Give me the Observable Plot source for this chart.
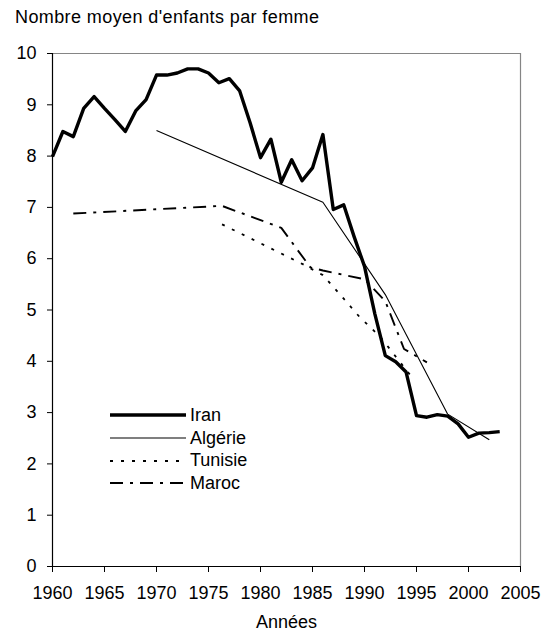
<!DOCTYPE html>
<html><head><meta charset="utf-8">
<script src="https://cdn.jsdelivr.net/npm/d3@7"></script>
<script src="https://cdn.jsdelivr.net/npm/@observablehq/plot@0.6"></script>
<style>
body{margin:0;background:#fff;font-family:"Liberation Sans",Arial,sans-serif;color:#000;}
#wrap{position:relative;width:547px;height:630px;}
#title{height:30px;line-height:34px;padding-left:15px;font-size:18px;letter-spacing:0.4px;white-space:nowrap;}
#legend{position:absolute;left:110px;top:404px;font-size:18px;}
.row{display:flex;align-items:center;height:22.7px;}
.row svg{display:block;margin-right:4px;}
</style></head><body>
<div id="wrap"><div id="title">Nombre moyen d'enfants par femme</div><div id="chart"></div><div id="legend"></div></div>
<script>
const iranYears = [1960,1961,1962,1963,1964,1965,1966,1967,1968,1969,1970,1971,1972,1973,1974,1975,1976,1977,1978,1979,1980,1981,1982,1983,1984,1985,1986,1987,1988,1989,1990,1991,1992,1993,1994,1995,1996,1997,1998,1999,2000,2001,2002,2003];
const iranValues = [7.99,8.48,8.38,8.93,9.16,8.93,8.71,8.48,8.88,9.10,9.58,9.58,9.62,9.70,9.70,9.62,9.43,9.51,9.27,8.65,7.97,8.33,7.49,7.93,7.52,7.77,8.42,6.96,7.05,6.43,5.85,4.92,4.11,3.99,3.79,2.94,2.91,2.96,2.93,2.78,2.52,2.60,2.61,2.63];
const algerieYears = [1970,1986,1992,1998,2002];
const algerieValues = [8.5,7.1,5.3,2.97,2.47];
const tunisieYears = [1976.3,1984,1986,1988,1989.5,1991.5,1994.6];
const tunisieValues = [6.67,5.9,5.68,5.22,4.87,4.48,3.68];
const marocYears = [1962,1976.3,1982,1984.8,1986,1990,1992,1993.8,1996];
const marocValues = [6.88,7.03,6.6,5.83,5.77,5.6,5.17,4.24,3.98];
const seriesNames = ["Iran","Algérie","Tunisie","Maroc"];
const xTicks = [1960,1965,1970,1975,1980,1985,1990,1995,2000,2005];
const yTicks = [0,1,2,3,4,5,6,7,8,9,10];
const xLabel = "Années";

const styles = {
  "Iran": {strokeWidth: 3.4, dash: null},
  "Algérie": {strokeWidth: 1.1, dash: null},
  "Tunisie": {strokeWidth: 1.8, dash: "3,8"},
  "Maroc": {strokeWidth: 1.9, dash: "13,7,3,7"}
};
const toRows = (ys, vs) => ys.map((y, i) => ({year: y, value: vs[i]}));
const series = {
  "Iran": toRows(iranYears, iranValues),
  "Algérie": toRows(algerieYears, algerieValues),
  "Tunisie": toRows(tunisieYears, tunisieValues),
  "Maroc": toRows(marocYears, marocValues)
};
const xDomain = [xTicks[0], xTicks[xTicks.length-1]];
const yDomain = [yTicks[0], yTicks[yTicks.length-1]];

const lineMarks = seriesNames.slice().reverse().map(n => Plot.line(series[n], {
  x: "year", y: "value", stroke: "black", strokeWidth: styles[n].strokeWidth,
  strokeDasharray: styles[n].dash || undefined, strokeLinejoin: "round", strokeLinecap: "butt"
}));

const chart = Plot.plot({
  width: 547, height: 600,
  marginTop: 23, marginLeft: 52, marginRight: 27, marginBottom: 64,
  style: {fontFamily: "Liberation Sans, Arial, sans-serif", fontSize: "18px", color: "black", background: "white"},
  x: {domain: xDomain},
  y: {domain: yDomain},
  marks: [
    Plot.ruleY([yDomain[1]], {stroke: "#858585", strokeWidth: 1.2}),
    Plot.ruleX([xDomain[1]], {stroke: "#858585", strokeWidth: 1.2}),
    ...lineMarks,
    Plot.ruleX([xDomain[0]], {stroke: "black", strokeWidth: 1.2}),
    Plot.ruleY([yDomain[0]], {stroke: "black", strokeWidth: 1.2}),
    Plot.axisY({ticks: yTicks, tickSize: 5, tickPadding: 11, label: null, tickFormat: "d"}),
    Plot.axisX({ticks: xTicks, tickSize: 6, tickPadding: 14, label: null, tickFormat: "d"}),
    Plot.text([xLabel], {frameAnchor: "bottom", dy: 61, fontSize: 18})
  ]
});
document.getElementById("chart").appendChild(chart);

const legend = document.getElementById("legend");
seriesNames.forEach(n => {
  const row = document.createElement("div");
  row.className = "row";
  const s = d3.create("svg").attr("width", 76).attr("height", 10);
  s.append("line").attr("x1", 0).attr("x2", 76).attr("y1", 5).attr("y2", 5)
    .attr("stroke", "black").attr("stroke-width", styles[n].strokeWidth)
    .attr("stroke-dasharray", styles[n].dash);
  row.appendChild(s.node());
  const t = document.createElement("span");
  t.textContent = n;
  row.appendChild(t);
  legend.appendChild(row);
});
</script>
</body></html>
